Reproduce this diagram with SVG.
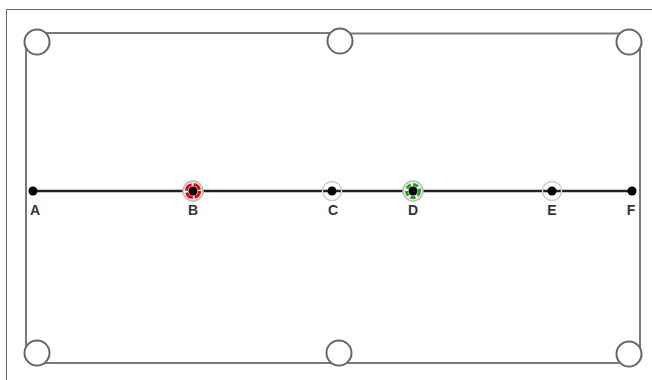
<svg xmlns="http://www.w3.org/2000/svg" width="652" height="380" viewBox="0 0 652 380">
<style>
.frame{fill:none;stroke:#666;stroke-width:1}
.edge{fill:none;stroke:#7a7a7a;stroke-width:2}
.handle{fill:#fff;stroke:#666;stroke-width:2}
.axis{stroke:#222;stroke-width:2.5}
.pt{fill:#000}
.halo{fill:none;stroke:#ccc;stroke-width:1.5}
.lbl{font-family:"Liberation Sans",Arial,sans-serif;font-size:14px;font-weight:bold;fill:#333;text-anchor:middle}
</style>
<rect width="652" height="380" fill="#fff"/>
<path class="frame" d="M6.5,380 V9.5 H652"/>
<g id="connectors">
<path class="edge" d="M26,42 V353"/>
<path class="edge" d="M37,33 H340 M340,33.5 H629"/>
<path class="edge" d="M640,42 V354"/>
<path class="edge" d="M37,363 H629"/>
<line class="axis" x1="33" y1="191" x2="632" y2="191"/>
</g>
<g id="handle-tl"><circle class="handle" cx="37" cy="42" r="12.5"/></g>
<g id="handle-tm"><circle class="handle" cx="340" cy="41" r="12.5"/></g>
<g id="handle-tr"><circle class="handle" cx="629" cy="42" r="12.5"/></g>
<g id="handle-bl"><circle class="handle" cx="37" cy="353" r="12.5"/></g>
<g id="handle-bm"><circle class="handle" cx="339" cy="353" r="12.5"/></g>
<g id="handle-br"><circle class="handle" cx="629" cy="354" r="12.5"/></g>
<g id="A"><circle class="pt" cx="33" cy="191" r="4.5"/><text class="lbl" x="35" y="215">A</text></g>
<g id="B"><circle cx="193" cy="191" r="10" fill="#eee" stroke="#bbb" stroke-width="1.5"/><circle cx="193" cy="191" r="6.5" fill="none" stroke="#e00" stroke-width="3" stroke-dasharray="8 2.2"/><circle class="pt" cx="193" cy="191" r="4.5"/><text class="lbl" x="193" y="215">B</text></g>
<g id="C"><circle class="halo" cx="332" cy="191" r="9.5"/><circle class="pt" cx="332" cy="191" r="4.5"/><text class="lbl" x="333" y="215">C</text></g>
<g id="D"><circle cx="413" cy="191" r="10" fill="#eee" stroke="#bbb" stroke-width="1.5"/><circle cx="413" cy="191" r="6.5" fill="none" stroke="#1a1" stroke-width="3" stroke-dasharray="5 2.5"/><circle class="pt" cx="413" cy="191" r="4.5"/><text class="lbl" x="413" y="215">D</text></g>
<g id="E"><circle class="halo" cx="552" cy="191" r="9.5"/><circle class="pt" cx="552" cy="191" r="4.5"/><text class="lbl" x="552" y="215">E</text></g>
<g id="F"><circle class="pt" cx="632" cy="191" r="4.5"/><text class="lbl" x="631" y="215">F</text></g>
</svg>
